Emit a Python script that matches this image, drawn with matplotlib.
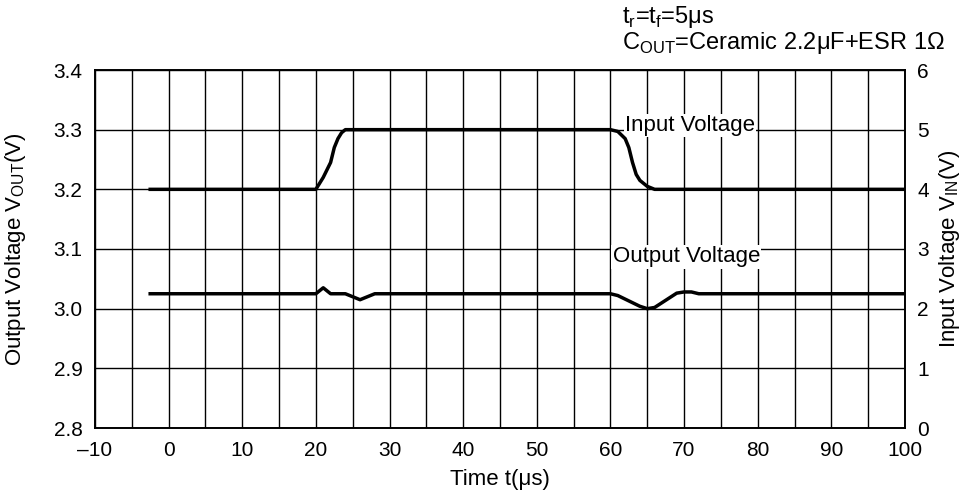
import numpy as np
import matplotlib.pyplot as plt

plt.rcParams['font.family'] = ['Liberation Sans', 'DejaVu Sans']
plt.rcParams['mathtext.fontset'] = 'custom'
plt.rcParams['mathtext.rm'] = 'Liberation Sans'

# Input voltage (right axis, V)
t_in = [-2.5, 20, 21, 22, 22.5, 23, 23.5, 24, 60, 61, 62, 62.5, 63, 63.5, 64, 65, 66, 100]
v_in = [4.0, 4.0, 4.2, 4.45, 4.7, 4.85, 4.95, 5.0, 5.0, 4.97, 4.85, 4.7, 4.45, 4.25, 4.15, 4.05, 4.0, 4.0]

# Output voltage (left axis, V)
t_out = [-2.5, 20, 21, 22, 24, 25, 26, 27, 28, 60, 61, 62, 63, 64, 65, 66, 67, 68, 69, 70, 71, 72, 100]
v_out = [3.025, 3.025, 3.035, 3.025, 3.025, 3.02, 3.015, 3.02, 3.025, 3.025, 3.022, 3.016,
         3.01, 3.004, 3.0, 3.002, 3.01, 3.018, 3.026, 3.028, 3.028, 3.025, 3.025]

FS = 15

fig = plt.figure(figsize=(9.65, 5), dpi=100)
ax = fig.add_axes([0.0984, 0.144, 0.8394, 0.716])
ax2 = ax.twinx()

ax.set_xlim(-10, 100)
ax.set_ylim(2.8, 3.4)
ax2.set_ylim(0, 6)

ax.set_xticks(np.arange(-10, 101, 10))
ax.set_xticks(np.arange(-10, 101, 5), minor=True)
ax.set_xticklabels(['\u201310'] + [str(v) for v in range(0, 101, 10)])
ax.set_yticks(np.arange(2.8, 3.41, 0.1))
ax.set_yticklabels(['%.1f' % v for v in np.arange(2.8, 3.41, 0.1)])
ax2.set_yticks(range(0, 7))

ax.grid(True, which='both', color='black', linewidth=1)
for a in (ax, ax2):
    a.tick_params(which='both', length=0, labelsize=FS, pad=9)
    for s in a.spines.values():
        s.set_linewidth(1.2)

ax.plot(t_out, v_out, color='black', linewidth=2.5, zorder=3)
ax2.plot(t_in, v_in, color='black', linewidth=2.5, zorder=3)

ax.text(62, 3.307, 'Input Voltage', fontsize=16, va='center', ha='left',
        bbox=dict(facecolor='white', edgecolor='none', pad=1), zorder=4)
ax.text(60.3, 3.087, 'Output Voltage', fontsize=16, va='center', ha='left',
        bbox=dict(facecolor='white', edgecolor='none', pad=1), zorder=4)

ax.set_xlabel('Time t(\u03bcs)', fontsize=16, labelpad=7)
ax.set_ylabel('Output Voltage V$_\\mathregular{OUT}$(V)', fontsize=16)
ax2.set_ylabel('Input Voltage V$_\\mathregular{IN}$(V)', fontsize=16)
ax.yaxis.set_label_coords(-0.083, 0.5)
ax2.yaxis.set_label_coords(1.040, 0.5)

fig.text(622 / 965, 1 - 17 / 500, 't$_\\mathregular{r}$=t$_\\mathregular{f}$=5\u03bcs', fontsize=17,
         va='center', ha='left')
fig.text(622 / 965, 1 - 43 / 500, 'C$_\\mathregular{OUT}$=Ceramic 2.2\u03bcF+ESR 1\u03a9', fontsize=17,
         va='center', ha='left')

fig.savefig('out.png', dpi=100)
